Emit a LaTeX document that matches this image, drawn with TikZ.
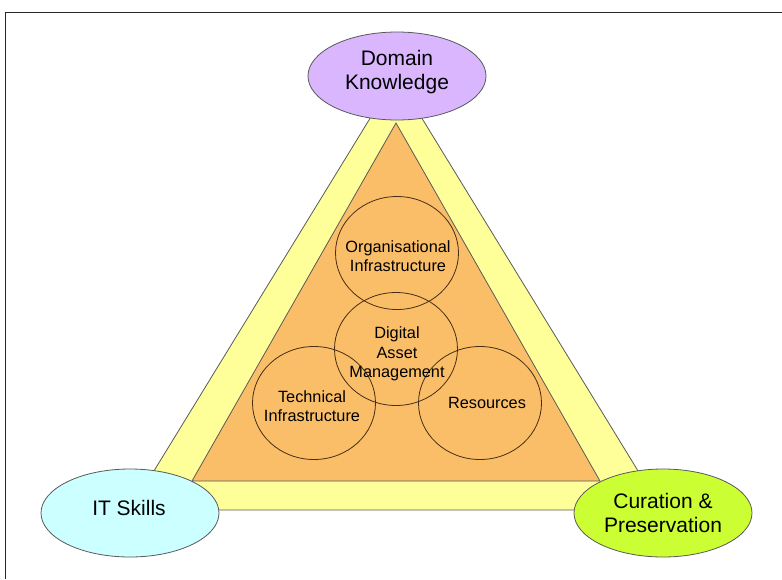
\documentclass[tikz,border=0pt]{standalone}
\usepackage{fontspec}
\setmainfont{Liberation Sans}
\usetikzlibrary{shapes.geometric}
\definecolor{frameC}{RGB}{40,40,40}
\definecolor{yelC}{RGB}{255,255,153}
\definecolor{oraC}{RGB}{250,190,105}
\definecolor{purC}{RGB}{218,182,255}
\definecolor{cyaC}{RGB}{204,255,255}
\definecolor{grnC}{RGB}{204,255,51}
\definecolor{edgeC}{RGB}{90,90,90}
\definecolor{circC}{RGB}{70,45,20}
\tikzset{
  x=1pt, y=-1pt,
  bigell/.style={ellipse, draw=edgeC, line width=0.8pt, inner sep=0pt,
    minimum width=178pt, minimum height=88pt, align=center,
    font=\fontsize{21}{24.5}\selectfont},
  bigtext/.style={align=center, inner sep=0pt, font=\fontsize{21}{24.5}\selectfont},
  circ/.style={ellipse, draw=circC, line width=0.8pt, inner sep=0pt,
    minimum width=123pt, minimum height=113pt},
  ctext/.style={align=center, inner sep=0pt, font=\fontsize{16.3}{19.5}\selectfont},
  tri/.style={draw=edgeC, line width=0.8pt, line join=miter}
}
\begin{document}
\begin{tikzpicture}
\useasboundingbox (0,0) rectangle (782,579);
\fill[white] (0,0) rectangle (782,579);
% frame
\draw[frameC, line width=1pt] (5,579) -- (5,12) -- (782,12);
% triangles
\coordinate (ya) at (396,76);
\coordinate (yl) at (130,510);
\coordinate (yr) at (662,510);
\filldraw[tri, fill=yelC] (ya) -- (yl) -- (yr) -- cycle;
\coordinate (oa) at (396,123);
\coordinate (ol) at (192,481);
\coordinate (or) at (600,481);
\filldraw[tri, fill=oraC] (oa) -- (ol) -- (or) -- cycle;
% circles
\node[circ] (org) at (397,253) {};
\node[circ] (dam) at (396,349) {};
\node[circ] (tech) at (314,403) {};
\node[circ] (res) at (480,403) {};
\node[ctext] (orgt) at (398,256) {Organisational\\Infrastructure};
\node[ctext] (damt) at (397,354) {Digital\\Asset\\Management};
\node[ctext] (techt) at (312,406) {Technical\\Infrastructure};
\node[ctext] (rest) at (487,403) {Resources};
% corner ellipses
\node[bigell, fill=purC] (dk) at (397,76) {};
\node[bigtext] (dkt) at (397,72) {Domain\\Knowledge};
\node[bigell, fill=cyaC] (it) at (130,513) {};
\node[bigtext] (itt) at (129,508) {IT Skills};
\node[bigell, fill=grnC] (cp) at (663,513) {Curation \&\\Preservation};
\end{tikzpicture}
\end{document}
